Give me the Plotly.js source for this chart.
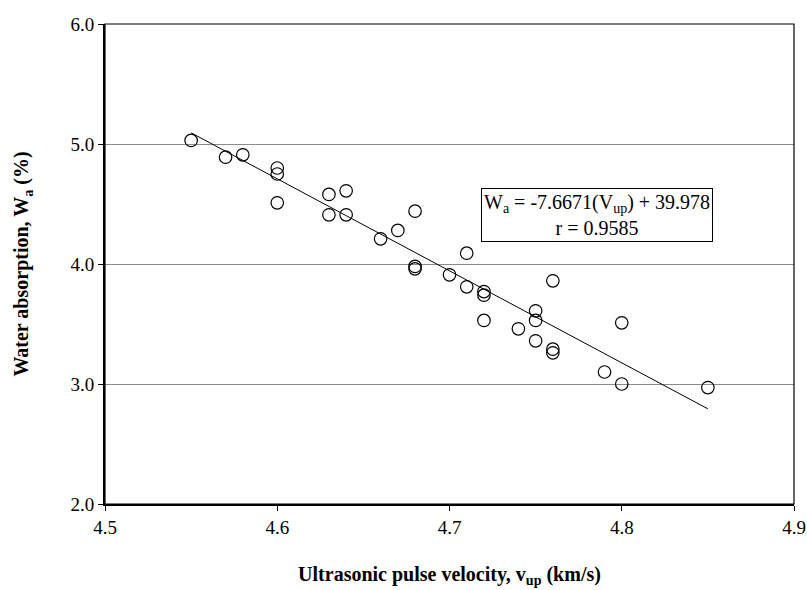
<!DOCTYPE html>
<html>
<head>
<meta charset="utf-8">
<script src="https://cdn.plot.ly/plotly-3.0.1.min.js"></script>
<style>html,body{margin:0;padding:0;background:#fff;}#chart{width:807px;height:590px;}</style>
</head>
<body>
<div id="chart"></div>
<script>
const velocity = [4.55,4.57,4.58,4.60,4.60,4.60,4.63,4.64,4.63,4.64,4.68,4.67,4.66,4.68,4.68,4.70,4.71,4.71,4.72,4.72,4.72,4.74,4.75,4.75,4.75,4.76,4.76,4.76,4.79,4.80,4.80,4.85];
const absorption = [5.03,4.89,4.91,4.80,4.75,4.51,4.58,4.61,4.41,4.41,4.44,4.28,4.21,3.98,3.96,3.91,4.09,3.81,3.77,3.74,3.53,3.46,3.61,3.53,3.36,3.86,3.29,3.26,3.10,3.51,3.00,2.97];
const trendX = [4.55, 4.85];
const trendY = [5.093, 2.793];
const xTicks = [4.5,4.6,4.7,4.8,4.9];
const yTicks = [2.0,3.0,4.0,5.0,6.0];

const serif = "'Liberation Serif', 'Times New Roman', serif";

const traces = [
  {x: trendX, y: trendY, mode: 'lines', type: 'scatter', line: {color: '#000', width: 1}, hoverinfo: 'skip'},
  {x: velocity, y: absorption, mode: 'markers', type: 'scatter',
   marker: {symbol: 'circle-open', size: 12.5, color: '#000', line: {color: '#000', width: 1.2}}}
];

const layout = {
  width: 807, height: 590,
  margin: {l: 105, r: 13, t: 24, b: 86},
  paper_bgcolor: '#fff', plot_bgcolor: '#fff',
  showlegend: false,
  font: {family: serif, color: '#000', size: 19},
  xaxis: {
    range: [4.5, 4.9], tickvals: xTicks, ticktext: xTicks.map(v => v.toFixed(1)),
    showgrid: false, zeroline: false, showline: true, linecolor: '#000', linewidth: 2,
    ticks: 'outside', ticklen: 5, tickwidth: 1, tickcolor: '#000', tickfont: {family: serif, size: 19},
    title: {text: '<b>Ultrasonic pulse velocity, v<sub>up</sub> (km/s)</b>', font: {family: serif, size: 20}, standoff: 30}
  },
  yaxis: {
    range: [2, 6], tickvals: yTicks, ticktext: yTicks.map(v => v.toFixed(1)),
    showgrid: true, gridcolor: '#8c8c8c', gridwidth: 1, zeroline: false,
    showline: true, linecolor: '#000', linewidth: 2,
    ticks: 'outside', ticklen: 5, tickwidth: 1, tickcolor: '#000', tickfont: {family: serif, size: 19},
    title: {text: '<b>Water absorption, W<sub>a</sub> (%)</b>', font: {family: serif, size: 20}, standoff: 36}
  },
  shapes: [{type: 'rect', xref: 'paper', yref: 'paper', x0: 0, x1: 1, y0: 0, y1: 1,
            line: {color: '#000', width: 1.2}, fillcolor: 'rgba(0,0,0,0)'}],
  annotations: [{
    x: 4.7856, y: 4.408, xref: 'x', yref: 'y', showarrow: false,
    text: 'W<sub>a</sub> = -7.6671(V<sub>up</sub>) + 39.978<br>r = 0.9585',
    font: {family: serif, size: 20, color: '#000'}, align: 'center',
    bordercolor: '#000', borderwidth: 1, borderpad: 2, bgcolor: '#fff'
  }]
};

Plotly.newPlot('chart', traces, layout, {displayModeBar: false, staticPlot: true});
</script>
</body>
</html>
